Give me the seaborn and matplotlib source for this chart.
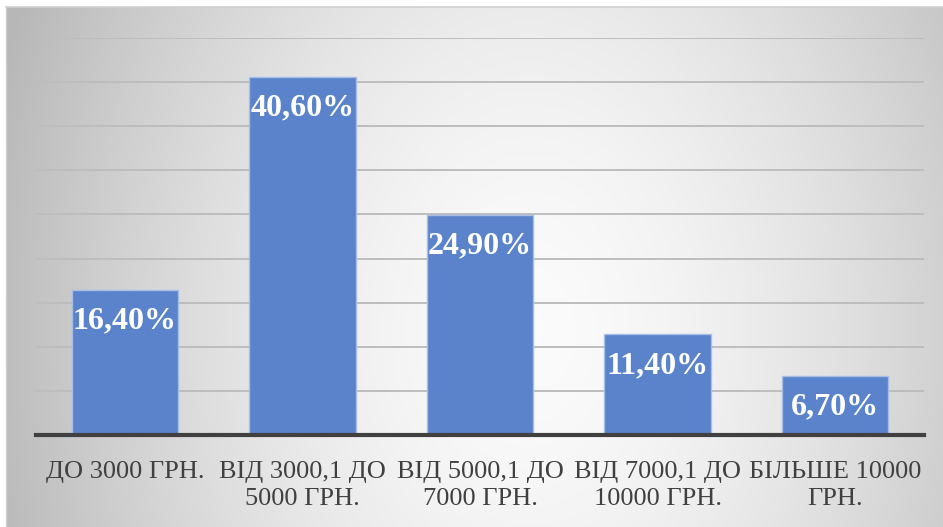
import numpy as np
import pandas as pd
import matplotlib
matplotlib.use("Agg")
import matplotlib.pyplot as plt
import seaborn as sns

# Data
categories = [
    "ДО 3000 ГРН.",
    "ВІД 3000,1 ДО\n5000 ГРН.",
    "ВІД 5000,1 ДО\n7000 ГРН.",
    "ВІД 7000,1 ДО\n10000 ГРН.",
    "БІЛЬШЕ 10000\nГРН.",
]
shares = [16.4, 40.6, 24.9, 11.4, 6.7]
share_labels = ["16,40%", "40,60%", "24,90%", "11,40%", "6,70%"]

sns.set_theme(style="white")
plt.rcParams['font.family'] = ['Liberation Serif', 'DejaVu Serif']

W, H = 943, 527
fig = plt.figure(figsize=(W / 100, H / 100), dpi=100)
fig.patch.set_facecolor("white")

# gradient panel behind the chart: light centre, grey towards the sides
px0, py0 = 6, 7
bg = fig.add_axes([px0 / W, 0, 1 - px0 / W, 1 - py0 / H])
gx = np.arange(px0, W)
gy = np.arange(py0, H)
xx, yy = np.meshgrid(gx, gy)
t = np.sqrt(((xx - 530) / 510) ** 2 + ((yy - 330) / 720) ** 2)
shade = np.clip(0.985 - 0.23 * t ** 1.6, 0.72, 1)
bg.imshow(np.dstack([shade] * 3), aspect="auto", extent=[0, 1, 0, 1], origin="upper")
bg.set_axis_off()
fig.add_artist(plt.Line2D([px0 / W, 1], [1 - py0 / H, 1 - py0 / H], color="#d0d0d0", lw=1.2))
fig.add_artist(plt.Line2D([px0 / W, px0 / W], [0, 1 - py0 / H], color="#d0d0d0", lw=1.0))

df = pd.DataFrame({"category": categories, "share": shares})

ax = fig.add_axes([36 / W, 92 / H, 888 / W, 397 / H])
ax.patch.set_alpha(0)
sns.barplot(data=df, x="category", y="share", color="#5A83CC", saturation=1,
            width=0.6, edgecolor="#a8bde4", linewidth=1.0, ax=ax, zorder=3)
ax.set_ylim(0, 45)
ax.set_yticks(np.arange(0, 46, 5))
ax.yaxis.grid(True, color="#bdbdbd", lw=1.4, zorder=0)
ax.set_axisbelow(True)
ax.tick_params(axis="y", left=False, labelleft=False)
ax.tick_params(axis="x", bottom=False, pad=13, labelsize=19, labelcolor="#404040")
for lab in ax.get_xticklabels():
    lab.set_linespacing(1.25)
for s in ["top", "right", "left"]:
    ax.spines[s].set_visible(False)
ax.spines["bottom"].set_color("#404040")
ax.spines["bottom"].set_linewidth(3)
ax.spines["bottom"].set_zorder(5)
ax.set_xlabel("")
ax.set_ylabel("")

for i, (v, lab) in enumerate(zip(shares, share_labels)):
    ax.annotate(lab, (i, v), xytext=(0, -31), textcoords="offset pixels",
                ha="center", va="center", color="white", fontsize=23,
                fontweight="bold", zorder=6)

fig.savefig("out.png", dpi=100)
